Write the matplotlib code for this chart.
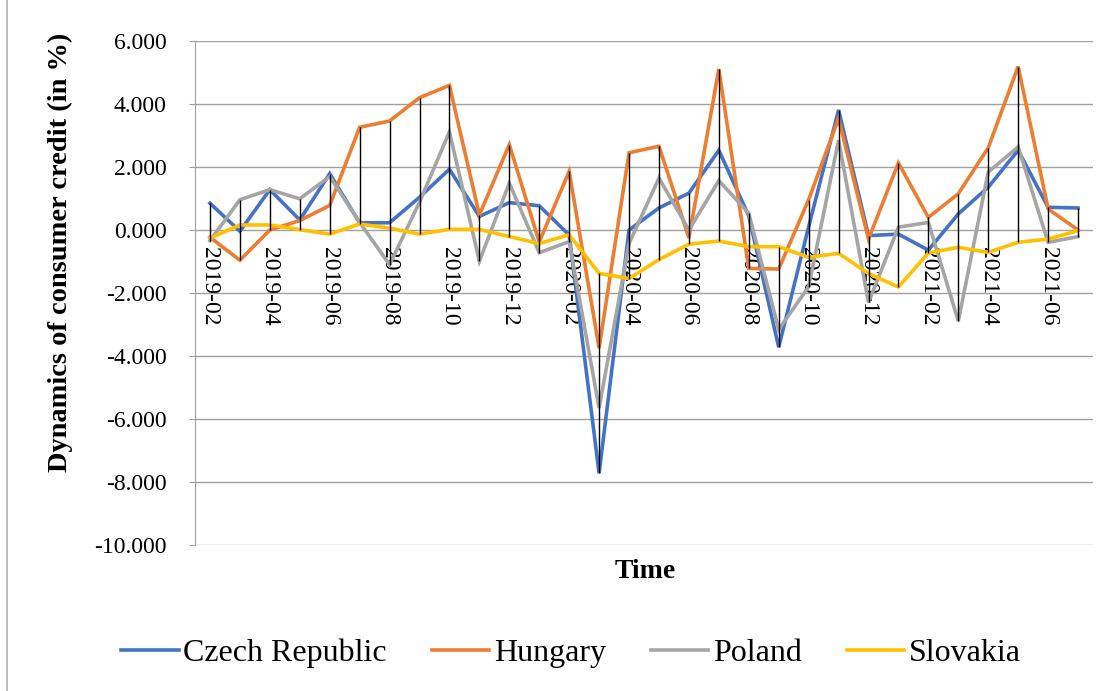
import numpy as np
import pandas as pd
import matplotlib
matplotlib.use("Agg")
import matplotlib.pyplot as plt
from matplotlib.lines import Line2D

plt.rcParams['font.family'] = ['Liberation Serif', 'DejaVu Serif']
plt.rcParams['axes.unicode_minus'] = False

# --- Data ---
months = list(pd.date_range("2019-02-01", periods=30, freq="MS").strftime("%Y-%m"))

czech = [0.85, -0.04, 1.28, 0.32, 1.79, 0.23, 0.23, 1.04, 1.93, 0.43,
         0.87, 0.77, -0.16, -7.72, 0.0, 0.70, 1.17, 2.53, 0.45, -3.72,
         0.10, 3.81, -0.18, -0.13, -0.64, 0.51, 1.36, 2.53, 0.72, 0.70]
hungary = [-0.23, -0.96, 0.0, 0.30, 0.78, 3.26, 3.46, 4.20, 4.59, 0.48,
           2.71, -0.38, 1.86, -3.75, 2.45, 2.66, -0.25, 5.11, -1.22, -1.24,
           0.96, 3.54, -0.29, 2.13, 0.40, 1.15, 2.61, 5.19, 0.67, 0.0]
poland = [-0.34, 0.96, 1.28, 0.99, 1.70, 0.24, -1.10, 0.88, 3.12, -0.99,
          1.49, -0.72, -0.37, -5.65, -0.43, 1.65, 0.0, 1.57, 0.53, -3.16,
          -1.80, 2.85, -2.30, 0.09, 0.24, -2.89, 1.84, 2.64, -0.39, -0.21]
slovakia = [-0.26, 0.16, 0.16, 0.01, -0.13, 0.19, 0.06, -0.13, 0.02, 0.02,
            -0.21, -0.43, -0.15, -1.38, -1.54, -0.94, -0.45, -0.35, -0.53, -0.53,
            -0.87, -0.74, -1.38, -1.81, -0.73, -0.55, -0.71, -0.39, -0.29, -0.02]

names = ["Czech Republic", "Hungary", "Poland", "Slovakia"]
colors = ["#4472C4", "#ED7D31", "#A5A5A5", "#FFC000"]
series = [czech, hungary, poland, slovakia]

# --- Figure ---
fig = plt.figure(figsize=(11.15, 6.91), dpi=100)
ax = fig.add_axes([195 / 1115, 1 - 545 / 691, 898 / 1115, 504 / 691])

x = np.arange(len(months))
for vals, name, col in zip(series, names, colors):
    ax.plot(x, vals, color=col, lw=2.6, label=name, solid_joinstyle="miter", zorder=3)

# high-low lines
data = np.array(series)
ax.vlines(x, data.min(axis=0), data.max(axis=0), color="black", lw=1.0, zorder=4)

# spines first: set_position resets the tick settings
ax.spines["bottom"].set_position(("data", 0))
ax.spines["bottom"].set_visible(False)
ax.spines["top"].set_visible(False)
ax.spines["right"].set_visible(False)
ax.spines["left"].set_color("#A0A0A0")

ax.set_xlim(-0.5, len(months) - 0.5)
ax.set_ylim(-10, 6)
ax.set_yticks(np.arange(-10, 7, 2))
ax.set_yticklabels([f"{v:.3f}" for v in np.arange(-10, 7, 2)], fontsize=17)
ax.yaxis.grid(True, color="#A0A0A0", lw=1.0)
ax.set_axisbelow(True)

ax.set_xticks(x[::2])
ax.set_xticklabels(months[::2], rotation=-90, fontsize=17, va="top", ha="center")
ax.tick_params(axis="x", length=0, pad=12)
ax.tick_params(axis="y", length=4.5, color="#A0A0A0", pad=16)

fig.text(60 / 1115, 1 - 252 / 691, "Dynamics of consumer credit (in %)",
         rotation=90, ha="center", va="center", fontsize=20.5, fontweight="bold")
fig.text(645 / 1115, 1 - 572 / 691, "Time", ha="center", va="center",
         fontsize=20, fontweight="bold")

fig.legend(loc="center", bbox_to_anchor=(571 / 1115, 1 - 653 / 691), ncol=4,
           frameon=False, fontsize=23, handlelength=1.8, handletextpad=0.15,
           columnspacing=1.4)

# thin border line at the left edge
fig.add_artist(Line2D([7 / 1115, 7 / 1115], [0, 1], color="#B0B0B0", lw=1.2,
                      transform=fig.transFigure))

fig.savefig("out.png", dpi=100)
